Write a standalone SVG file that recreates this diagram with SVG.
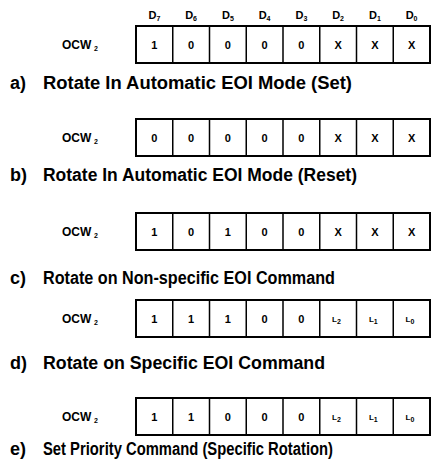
<svg xmlns="http://www.w3.org/2000/svg" width="442" height="463" viewBox="0 0 442 463">
<style>
text{font-family:"Liberation Sans",Arial,sans-serif;font-weight:bold;fill:#000}
.box{fill:#fff;stroke:#000;stroke-width:2}
.div{stroke:#000;stroke-width:1.5}
.hdr{font-size:11px;text-anchor:middle}
.sub{font-size:7px}
.ocw{font-size:12px}
.cell{font-size:11px;text-anchor:middle}
.lab{font-size:18px}
</style>
<defs>
<g id="grid">
<rect class="box" x="136" y="0" width="294" height="37"/>
<path class="div" d="M172.75 0V37M209.5 0V37M246.25 0V37M283 0V37M319.75 0V37M356.5 0V37M393.25 0V37"/>
</g>
</defs>
<g id="header">
<text class="hdr" x="154.4" y="19">D<tspan class="sub" dy="2">7</tspan></text>
<text class="hdr" x="191.1" y="19">D<tspan class="sub" dy="2">6</tspan></text>
<text class="hdr" x="227.9" y="19">D<tspan class="sub" dy="2">5</tspan></text>
<text class="hdr" x="264.6" y="19">D<tspan class="sub" dy="2">4</tspan></text>
<text class="hdr" x="301.4" y="19">D<tspan class="sub" dy="2">3</tspan></text>
<text class="hdr" x="338.1" y="19">D<tspan class="sub" dy="2">2</tspan></text>
<text class="hdr" x="374.9" y="19">D<tspan class="sub" dy="2">1</tspan></text>
<text class="hdr" x="411.6" y="19">D<tspan class="sub" dy="2">0</tspan></text>
</g>
<g id="row-a">
<use href="#grid" y="26"/>
<text class="ocw" x="62" y="49">OCW</text><text class="sub" x="94" y="51">2</text>
<text class="cell" y="48.5"><tspan x="154.4">1</tspan><tspan x="191.1">0</tspan><tspan x="227.9">0</tspan><tspan x="264.6">0</tspan><tspan x="301.4">0</tspan><tspan x="338.1">X</tspan><tspan x="374.9">X</tspan><tspan x="411.6">X</tspan></text>
<text class="lab" x="10" y="89">a)</text>
<text class="lab" x="43" y="89" textLength="309" lengthAdjust="spacingAndGlyphs">Rotate In Automatic EOI Mode (Set)</text>
</g>
<g id="row-b">
<use href="#grid" y="119"/>
<text class="ocw" x="62" y="142">OCW</text><text class="sub" x="94" y="144">2</text>
<text class="cell" y="141.5"><tspan x="154.4">0</tspan><tspan x="191.1">0</tspan><tspan x="227.9">0</tspan><tspan x="264.6">0</tspan><tspan x="301.4">0</tspan><tspan x="338.1">X</tspan><tspan x="374.9">X</tspan><tspan x="411.6">X</tspan></text>
<text class="lab" x="10" y="181">b)</text>
<text class="lab" x="43" y="181" textLength="314" lengthAdjust="spacingAndGlyphs">Rotate In Automatic EOI Mode (Reset)</text>
</g>
<g id="row-c">
<use href="#grid" y="213"/>
<text class="ocw" x="62" y="236">OCW</text><text class="sub" x="94" y="238">2</text>
<text class="cell" y="235.5"><tspan x="154.4">1</tspan><tspan x="191.1">0</tspan><tspan x="227.9">1</tspan><tspan x="264.6">0</tspan><tspan x="301.4">0</tspan><tspan x="338.1">X</tspan><tspan x="374.9">X</tspan><tspan x="411.6">X</tspan></text>
<text class="lab" x="10" y="284">c)</text>
<text class="lab" x="43" y="284" textLength="292" lengthAdjust="spacingAndGlyphs">Rotate on Non-specific EOI Command</text>
</g>
<g id="row-d">
<use href="#grid" y="300"/>
<text class="ocw" x="62" y="323">OCW</text><text class="sub" x="94" y="325">2</text>
<text class="cell" y="322.5"><tspan x="154.4">1</tspan><tspan x="191.1">1</tspan><tspan x="227.9">1</tspan><tspan x="264.6">0</tspan><tspan x="301.4">0</tspan></text>
<text class="cell" y="322" style="font-size:8px"><tspan x="336.5">L</tspan><tspan class="sub" dy="2">2</tspan><tspan x="373.3" dy="-2">L</tspan><tspan class="sub" dy="2">1</tspan><tspan x="410" dy="-2">L</tspan><tspan class="sub" dy="2">0</tspan></text>
<text class="lab" x="10" y="369">d)</text>
<text class="lab" x="43" y="369" textLength="282" lengthAdjust="spacingAndGlyphs">Rotate on Specific EOI Command</text>
</g>
<g id="row-e">
<use href="#grid" y="398"/>
<text class="ocw" x="62" y="421">OCW</text><text class="sub" x="94" y="423">2</text>
<text class="cell" y="420.5"><tspan x="154.4">1</tspan><tspan x="191.1">1</tspan><tspan x="227.9">0</tspan><tspan x="264.6">0</tspan><tspan x="301.4">0</tspan></text>
<text class="cell" y="420" style="font-size:8px"><tspan x="336.5">L</tspan><tspan class="sub" dy="2">2</tspan><tspan x="373.3" dy="-2">L</tspan><tspan class="sub" dy="2">1</tspan><tspan x="410" dy="-2">L</tspan><tspan class="sub" dy="2">0</tspan></text>
<text class="lab" x="10" y="455">e)</text>
<text class="lab" x="43" y="455" textLength="290" lengthAdjust="spacingAndGlyphs">Set Priority Command (Specific Rotation)</text>
</g>
<g id="connectors"/>
</svg>
